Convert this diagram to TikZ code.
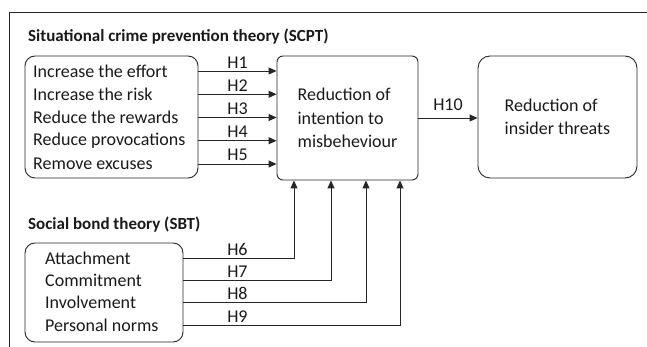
\documentclass[tikz,border=0pt]{standalone}
\usepackage{fontspec}
\setmainfont{Carlito}
\usepackage{tikz}
\usetikzlibrary{arrows.meta,positioning}
\begin{document}
\begin{tikzpicture}[x=1pt,y=-1pt]
	\tikzstyle{every node}=[font=\fontsize{18}{23.3}\selectfont, text=black!90]
	\tikzstyle{grp}=[draw=black!85, line width=0.9pt, inner sep=0pt]
	\tikzstyle{item}=[anchor=west, inner sep=0pt]
	\tikzstyle{head}=[anchor=west, inner sep=0pt, font=\fontsize{17}{20}\selectfont\bfseries]
	\tikzstyle{link}=[draw=black!85, line width=0.9pt, -{Triangle[length=8pt,width=7pt]}]
	\tikzstyle{hyp}=[above, inner sep=2.5pt]
	\useasboundingbox (0,0) rectangle (647,347);
	\draw[black!85, line width=0.8pt] (9,347) -- (9,12) -- (647,12);
	\node[head] (scpttitle) at (28,37) {Situational crime prevention theory (SCPT)};
	\node[grp, rounded corners=10pt, minimum width=173, minimum height=122] (scpt) at (111.5,117) {};
	\foreach \t [count=\i] in {Increase the effort, Increase the risk, Reduce the rewards, Reduce provocations, Remove excuses}
		\node[item] (e\i) at (33,{71+23.25*(\i-1)}) {\t};
	\node[grp, rounded corners=6pt, minimum width=141, minimum height=124, align=left] (mid) at (347.5,118) {Reduction of\\intention to\\misbeheviour};
	\node[grp, rounded corners=12pt, minimum width=159, minimum height=122, align=left] (goal) at (557.5,117) {Reduction of\\insider threats};
	\node[head] (sbttitle) at (28,225) {Social bond theory (SBT)};
	\node[grp, rounded corners=10pt, minimum width=158, minimum height=99] (sbt) at (104,292.5) {};
	\foreach \t/\x [count=\i from 6] in {Attachment/294, Commitment/331, Involvement/366, Personal norms/400} {
		\node[item] (b\i) at (45,{258+22.4*(\i-6)}) {\t};
		\coordinate (c\i) at (\x,0);
	}
	\foreach \i in {1,...,5}
		\draw[link] (scpt.east |- e\i) -- node[hyp] {H\i} (mid.west |- e\i);
	\foreach \i in {6,...,9} {
		\draw[link] (sbt.east |- b\i) -| (mid.south -| c\i);
		\path (sbt.east |- b\i) ++(54,0) node[hyp] (h\i) {H\i};
	}
	\draw[link] (mid.east) -- node[hyp, inner sep=7pt] {H10} (goal.west |- mid.east);
\end{tikzpicture}
\end{document}
